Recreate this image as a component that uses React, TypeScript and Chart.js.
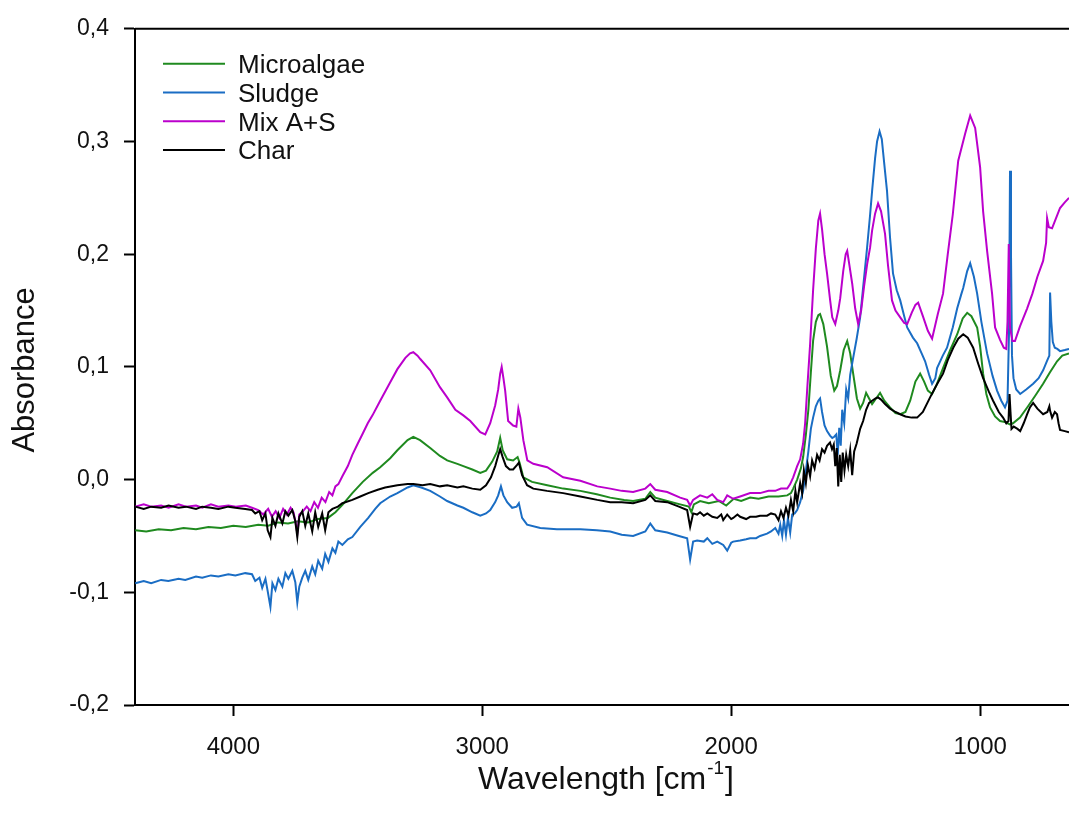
import React, { useEffect, useRef } from "react";
import { Chart, registerables } from "chart.js";

Chart.register(...registerables);

// ---- data: [wavenumber (cm-1), absorbance] ----
const microalgae: [number, number][] = [
  [4394,-0.045],[4350,-0.046],[4300,-0.044],[4250,-0.045],[4200,-0.043],[4150,-0.044],[4100,-0.042],[4050,-0.043],[4000,-0.041],[3950,-0.042],[3900,-0.040],[3860,-0.041],[3820,-0.038],[3780,-0.039],[3740,-0.037],[3700,-0.038],[3660,-0.035],[3620,-0.034],[3590,-0.029],[3560,-0.022],[3522,-0.012],[3480,-0.002],[3440,0.006],[3410,0.011],[3370,0.019],[3341,0.026],[3300,0.035],[3277,0.038],[3250,0.035],[3209,0.028],[3170,0.021],[3141,0.017],[3100,0.014],[3076,0.012],[3040,0.009],[3008,0.006],[2985,0.008],[2960,0.016],[2940,0.025],[2928,0.037],[2918,0.026],[2900,0.018],[2876,0.017],[2858,0.020],[2850,0.015],[2835,0.002],[2800,-0.002],[2739,-0.005],[2675,-0.008],[2606,-0.010],[2540,-0.013],[2486,-0.016],[2430,-0.018],[2394,-0.019],[2345,-0.017],[2325,-0.011],[2305,-0.016],[2257,-0.019],[2205,-0.022],[2170,-0.024],[2160,-0.029],[2150,-0.022],[2125,-0.019],[2090,-0.021],[2050,-0.019],[2020,-0.023],[1990,-0.017],[1960,-0.019],[1924,-0.016],[1890,-0.017],[1850,-0.015],[1810,-0.015],[1775,-0.014],[1760,-0.012],[1751,-0.008],[1735,0.000],[1720,0.010],[1711,0.020],[1700,0.040],[1690,0.062],[1680,0.095],[1671,0.123],[1660,0.140],[1650,0.146],[1643,0.147],[1630,0.138],[1615,0.118],[1600,0.092],[1586,0.079],[1575,0.083],[1562,0.097],[1548,0.115],[1534,0.123],[1522,0.112],[1510,0.094],[1495,0.072],[1482,0.063],[1470,0.068],[1458,0.077],[1446,0.072],[1434,0.067],[1418,0.072],[1402,0.077],[1385,0.070],[1362,0.064],[1340,0.059],[1321,0.058],[1300,0.060],[1281,0.070],[1260,0.087],[1241,0.094],[1225,0.087],[1210,0.079],[1193,0.076],[1175,0.084],[1149,0.099],[1120,0.115],[1092,0.129],[1070,0.143],[1052,0.148],[1035,0.145],[1012,0.135],[1000,0.118],[988,0.094],[975,0.076],[960,0.064],[940,0.056],[920,0.052],[900,0.051],[880,0.049],[868,0.050],[840,0.055],[811,0.064],[780,0.074],[747,0.085],[720,0.095],[691,0.105],[670,0.110],[643,0.112]
];

const sludge: [number, number][] = [
  [4394,-0.092],[4360,-0.090],[4330,-0.092],[4290,-0.089],[4261,-0.090],[4220,-0.088],[4193,-0.089],[4150,-0.086],[4125,-0.087],[4090,-0.085],[4060,-0.086],[4020,-0.084],[3992,-0.085],[3952,-0.083],[3925,-0.084],[3912,-0.090],[3895,-0.087],[3884,-0.096],[3871,-0.088],[3862,-0.099],[3851,-0.113],[3843,-0.092],[3831,-0.098],[3819,-0.088],[3803,-0.095],[3791,-0.083],[3779,-0.088],[3763,-0.081],[3751,-0.091],[3743,-0.109],[3735,-0.095],[3723,-0.087],[3711,-0.081],[3699,-0.089],[3683,-0.077],[3671,-0.084],[3659,-0.072],[3643,-0.079],[3631,-0.066],[3618,-0.073],[3602,-0.061],[3590,-0.065],[3578,-0.055],[3562,-0.058],[3540,-0.053],[3522,-0.051],[3490,-0.042],[3458,-0.034],[3430,-0.026],[3410,-0.021],[3370,-0.015],[3341,-0.012],[3300,-0.007],[3277,-0.005],[3245,-0.007],[3209,-0.010],[3170,-0.015],[3141,-0.019],[3100,-0.023],[3076,-0.025],[3040,-0.029],[3008,-0.032],[2985,-0.030],[2968,-0.027],[2948,-0.020],[2936,-0.014],[2925,-0.006],[2915,-0.014],[2900,-0.020],[2880,-0.025],[2862,-0.024],[2853,-0.021],[2840,-0.034],[2820,-0.040],[2767,-0.043],[2700,-0.044],[2606,-0.044],[2540,-0.045],[2486,-0.046],[2440,-0.049],[2394,-0.050],[2345,-0.046],[2325,-0.039],[2305,-0.045],[2257,-0.047],[2210,-0.050],[2177,-0.052],[2165,-0.071],[2153,-0.055],[2137,-0.054],[2110,-0.055],[2096,-0.052],[2076,-0.057],[2056,-0.055],[2032,-0.058],[2016,-0.063],[2000,-0.056],[1992,-0.055],[1964,-0.054],[1940,-0.053],[1924,-0.052],[1900,-0.052],[1884,-0.050],[1856,-0.048],[1840,-0.046],[1823,-0.043],[1810,-0.048],[1803,-0.040],[1795,-0.050],[1788,-0.036],[1780,-0.049],[1772,-0.034],[1763,-0.047],[1755,-0.031],[1745,-0.030],[1735,-0.027],[1723,-0.020],[1711,-0.010],[1700,0.008],[1690,0.025],[1680,0.045],[1671,0.055],[1660,0.065],[1650,0.070],[1643,0.072],[1635,0.060],[1625,0.048],[1615,0.043],[1603,0.039],[1594,0.037],[1586,0.038],[1578,0.040],[1572,0.022],[1566,0.046],[1560,0.030],[1554,0.062],[1546,0.050],[1538,0.080],[1530,0.072],[1522,0.093],[1510,0.108],[1496,0.125],[1482,0.144],[1468,0.175],[1454,0.206],[1442,0.235],[1434,0.256],[1422,0.285],[1414,0.300],[1404,0.309],[1395,0.302],[1385,0.280],[1374,0.256],[1362,0.215],[1350,0.183],[1335,0.168],[1321,0.159],[1305,0.145],[1293,0.135],[1270,0.126],[1253,0.121],[1235,0.112],[1221,0.105],[1205,0.093],[1193,0.085],[1180,0.090],[1173,0.099],[1150,0.110],[1133,0.117],[1110,0.135],[1092,0.152],[1075,0.165],[1068,0.170],[1052,0.185],[1040,0.192],[1025,0.180],[1012,0.165],[995,0.140],[972,0.112],[950,0.092],[932,0.079],[915,0.070],[900,0.064],[890,0.070],[884,0.130],[880,0.274],[876,0.200],[872,0.110],[866,0.090],[855,0.080],[839,0.076],[815,0.080],[787,0.085],[765,0.090],[747,0.097],[730,0.106],[722,0.110],[719,0.166],[714,0.140],[708,0.122],[700,0.117],[690,0.116],[679,0.114],[660,0.115],[643,0.116]
];

const mixAS: [number, number][] = [
  [4394,-0.024],[4360,-0.022],[4330,-0.024],[4290,-0.023],[4260,-0.025],[4220,-0.022],[4190,-0.024],[4150,-0.023],[4125,-0.025],[4090,-0.022],[4060,-0.024],[4020,-0.023],[3990,-0.024],[3950,-0.023],[3925,-0.025],[3900,-0.027],[3880,-0.031],[3860,-0.026],[3845,-0.033],[3830,-0.028],[3815,-0.034],[3800,-0.026],[3785,-0.031],[3770,-0.025],[3758,-0.029],[3750,-0.038],[3743,-0.048],[3735,-0.031],[3720,-0.028],[3705,-0.024],[3690,-0.028],[3675,-0.020],[3660,-0.025],[3645,-0.016],[3630,-0.020],[3615,-0.011],[3602,-0.014],[3590,-0.006],[3578,-0.004],[3562,0.003],[3540,0.012],[3522,0.022],[3500,0.032],[3482,0.040],[3460,0.050],[3441,0.057],[3410,0.070],[3373,0.085],[3341,0.098],[3309,0.108],[3290,0.112],[3277,0.113],[3260,0.110],[3249,0.107],[3209,0.097],[3170,0.082],[3141,0.073],[3108,0.062],[3076,0.057],[3048,0.052],[3008,0.042],[2988,0.040],[2968,0.050],[2948,0.066],[2936,0.080],[2928,0.094],[2922,0.100],[2915,0.090],[2908,0.079],[2896,0.052],[2876,0.048],[2863,0.047],[2855,0.063],[2847,0.055],[2835,0.035],[2819,0.017],[2795,0.014],[2739,0.011],[2675,0.002],[2606,-0.001],[2538,-0.006],[2486,-0.008],[2440,-0.010],[2394,-0.011],[2345,-0.008],[2325,-0.004],[2305,-0.009],[2257,-0.011],[2205,-0.016],[2177,-0.018],[2165,-0.023],[2153,-0.018],[2125,-0.014],[2096,-0.016],[2076,-0.013],[2056,-0.018],[2032,-0.020],[2016,-0.014],[1992,-0.017],[1964,-0.015],[1924,-0.012],[1884,-0.012],[1850,-0.010],[1823,-0.010],[1800,-0.008],[1775,-0.008],[1763,-0.004],[1751,0.002],[1735,0.012],[1723,0.018],[1711,0.032],[1703,0.050],[1695,0.079],[1683,0.120],[1671,0.168],[1660,0.205],[1650,0.230],[1643,0.236],[1635,0.222],[1625,0.200],[1615,0.183],[1603,0.160],[1594,0.144],[1582,0.138],[1570,0.150],[1562,0.161],[1550,0.185],[1540,0.200],[1534,0.203],[1525,0.190],[1514,0.174],[1502,0.152],[1490,0.138],[1478,0.150],[1466,0.172],[1454,0.191],[1442,0.206],[1434,0.221],[1422,0.236],[1410,0.245],[1398,0.238],[1382,0.218],[1370,0.190],[1354,0.159],[1340,0.150],[1321,0.144],[1305,0.139],[1293,0.138],[1275,0.148],[1260,0.155],[1249,0.157],[1230,0.145],[1210,0.132],[1193,0.125],[1170,0.147],[1149,0.165],[1130,0.200],[1110,0.235],[1088,0.283],[1060,0.307],[1040,0.323],[1020,0.312],[1000,0.277],[988,0.238],[972,0.203],[952,0.165],[940,0.135],[920,0.124],[905,0.117],[895,0.116],[890,0.140],[885,0.209],[880,0.135],[870,0.123],[860,0.123],[840,0.136],[811,0.152],[790,0.165],[770,0.180],[747,0.194],[735,0.210],[731,0.232],[724,0.224],[711,0.223],[695,0.232],[679,0.241],[660,0.246],[643,0.250]
];

const charData: [number, number][] = [
  [4394,-0.024],[4360,-0.026],[4330,-0.024],[4290,-0.025],[4260,-0.023],[4220,-0.025],[4190,-0.024],[4150,-0.026],[4125,-0.024],[4090,-0.025],[4060,-0.026],[4020,-0.024],[3992,-0.025],[3952,-0.026],[3925,-0.027],[3912,-0.030],[3895,-0.028],[3884,-0.036],[3871,-0.030],[3862,-0.045],[3851,-0.051],[3843,-0.034],[3831,-0.041],[3819,-0.030],[3803,-0.039],[3791,-0.028],[3779,-0.032],[3763,-0.027],[3751,-0.037],[3743,-0.051],[3735,-0.033],[3723,-0.028],[3711,-0.041],[3699,-0.030],[3683,-0.046],[3671,-0.029],[3659,-0.042],[3643,-0.030],[3631,-0.045],[3618,-0.029],[3602,-0.026],[3580,-0.024],[3562,-0.021],[3522,-0.018],[3490,-0.015],[3458,-0.012],[3420,-0.009],[3390,-0.007],[3341,-0.005],[3300,-0.004],[3277,-0.004],[3240,-0.005],[3209,-0.004],[3170,-0.006],[3141,-0.005],[3100,-0.007],[3076,-0.006],[3040,-0.008],[3008,-0.009],[2985,-0.005],[2965,0.002],[2948,0.012],[2935,0.022],[2928,0.027],[2918,0.020],[2905,0.012],[2890,0.009],[2876,0.009],[2860,0.013],[2853,0.015],[2840,0.004],[2820,-0.005],[2795,-0.008],[2740,-0.010],[2675,-0.012],[2606,-0.015],[2538,-0.018],[2486,-0.020],[2440,-0.020],[2394,-0.021],[2345,-0.018],[2325,-0.014],[2305,-0.019],[2257,-0.020],[2210,-0.024],[2177,-0.027],[2165,-0.042],[2153,-0.030],[2137,-0.031],[2125,-0.029],[2110,-0.032],[2096,-0.030],[2076,-0.033],[2056,-0.034],[2040,-0.031],[2032,-0.036],[2016,-0.031],[2000,-0.035],[1992,-0.034],[1975,-0.031],[1964,-0.033],[1940,-0.035],[1924,-0.033],[1900,-0.033],[1884,-0.032],[1856,-0.032],[1840,-0.030],[1823,-0.031],[1810,-0.036],[1800,-0.028],[1790,-0.034],[1780,-0.025],[1770,-0.032],[1760,-0.018],[1751,-0.028],[1742,-0.010],[1735,-0.020],[1723,-0.003],[1715,-0.012],[1708,0.008],[1700,-0.003],[1692,0.013],[1683,0.003],[1675,0.017],[1665,0.010],[1655,0.022],[1645,0.017],[1635,0.027],[1625,0.024],[1615,0.030],[1603,0.033],[1595,0.027],[1588,0.031],[1582,0.012],[1576,0.028],[1570,-0.006],[1564,0.022],[1558,-0.002],[1552,0.024],[1545,0.008],[1538,0.022],[1530,0.012],[1522,0.026],[1514,0.004],[1506,0.025],[1496,0.032],[1482,0.045],[1470,0.052],[1458,0.062],[1446,0.068],[1434,0.070],[1420,0.072],[1410,0.073],[1398,0.071],[1382,0.067],[1362,0.063],[1340,0.060],[1321,0.058],[1300,0.056],[1275,0.055],[1253,0.055],[1230,0.060],[1201,0.073],[1175,0.084],[1149,0.094],[1130,0.106],[1108,0.117],[1088,0.125],[1068,0.129],[1050,0.126],[1028,0.117],[1008,0.103],[988,0.090],[965,0.078],[948,0.070],[925,0.060],[908,0.055],[895,0.050],[886,0.052],[882,0.076],[878,0.060],[874,0.045],[865,0.047],[850,0.045],[839,0.043],[825,0.050],[811,0.058],[800,0.064],[787,0.068],[770,0.063],[747,0.058],[730,0.060],[722,0.065],[719,0.061],[711,0.055],[700,0.060],[691,0.058],[685,0.050],[679,0.044],[660,0.043],[643,0.042]
];

const seriesLabels = ["Microalgae", "Sludge", "Mix A+S", "Char"];
const seriesColors = ["#1f8a1f", "#1a6dc4", "#bb00cc", "#000000"];
const xTickValues = [4000, 3000, 2000, 1000];
const yTickValues = [-0.2, -0.1, 0, 0.1, 0.2, 0.3, 0.4];
const xMin = 643;
const xMax = 4395;
const yMin = -0.2;
const yMax = 0.4;

const FONT = "'Liberation Sans', Arial, Helvetica, sans-serif";

const framePlugin = {
  id: "frameAndText",
  afterDraw(chart: any) {
    const { ctx, chartArea } = chart;
    ctx.save();
    // top frame line
    ctx.strokeStyle = "#000";
    ctx.lineWidth = 2;
    ctx.beginPath();
    ctx.moveTo(chartArea.left, chartArea.top);
    ctx.lineTo(chartArea.right, chartArea.top);
    ctx.stroke();

    // legend
    const lx0 = chartArea.left + 28;
    const lx1 = chartArea.left + 90;
    const tx = chartArea.left + 103;
    seriesLabels.forEach((lab, i) => {
      const y = chartArea.top + 35 + i * 28.7;
      ctx.strokeStyle = seriesColors[i];
      ctx.lineWidth = 2;
      ctx.beginPath();
      ctx.moveTo(lx0, y);
      ctx.lineTo(lx1, y);
      ctx.stroke();
      ctx.fillStyle = "#111";
      ctx.font = `26px ${FONT}`;
      ctx.textAlign = "left";
      ctx.textBaseline = "alphabetic";
      ctx.fillText(lab, tx, y + 9.5);
    });

    // y title
    ctx.save();
    ctx.translate(25, (chartArea.top + chartArea.bottom) / 2 + 3);
    ctx.rotate(-Math.PI / 2);
    ctx.font = `31px ${FONT}`;
    ctx.textAlign = "center";
    ctx.textBaseline = "middle";
    ctx.fillStyle = "#111";
    ctx.fillText("Absorbance", 0, 0);
    ctx.restore();

    // x title with superscript
    const main = "Wavelength [cm";
    const sup = "-1";
    const end = "]";
    ctx.font = `32px ${FONT}`;
    const wMain = ctx.measureText(main).width;
    const wEnd = ctx.measureText(end).width;
    ctx.font = `19px ${FONT}`;
    const wSup = ctx.measureText(sup).width;
    const total = wMain + wSup + wEnd + 2;
    const cx = (chartArea.left + chartArea.right) / 2 + 4;
    let x = cx - total / 2;
    const baseY = 789;
    ctx.fillStyle = "#111";
    ctx.textAlign = "left";
    ctx.textBaseline = "alphabetic";
    ctx.font = `32px ${FONT}`;
    ctx.fillText(main, x, baseY);
    x += wMain + 1;
    ctx.font = `19px ${FONT}`;
    ctx.fillText(sup, x, baseY - 15);
    x += wSup + 1;
    ctx.font = `32px ${FONT}`;
    ctx.fillText(end, x, baseY);
    ctx.restore();
  },
};

function toPoints(arr: [number, number][]) {
  return arr.map(([x, y]) => ({ x, y }));
}

export default function App() {
  const ref = useRef<HTMLCanvasElement | null>(null);

  useEffect(() => {
    if (!ref.current) return;
    const allSeries = [microalgae, sludge, mixAS, charData];
    const orders = [3, 2, 1, 0];
    const chart = new Chart(ref.current, {
      type: "line",
      data: {
        datasets: allSeries.map((s, i) => ({
          label: seriesLabels[i],
          data: toPoints(s),
          borderColor: seriesColors[i],
          backgroundColor: seriesColors[i],
          borderWidth: 2,
          pointRadius: 0,
          tension: 0,
          fill: false,
          order: orders[i],
        })),
      },
      options: {
        animation: false,
        responsive: false,
        devicePixelRatio: 1,
        parsing: false as any,
        normalized: true,
        layout: { padding: { top: 28, left: 0, right: 0, bottom: 0 } },
        plugins: {
          legend: { display: false },
          tooltip: { enabled: false },
        },
        scales: {
          x: {
            type: "linear",
            reverse: true,
            min: xMin,
            max: xMax,
            afterBuildTicks: (s: any) => {
              s.ticks = xTickValues.map((v) => ({ value: v }));
            },
            afterFit: (s: any) => {
              s.height = 115;
            },
            grid: {
              display: true,
              drawOnChartArea: false,
              drawTicks: true,
              tickLength: 11,
              tickColor: "#000",
              tickWidth: 2,
            },
            border: { display: true, color: "#000", width: 2 },
            ticks: {
              color: "#111",
              font: { family: FONT, size: 24 },
              padding: 17,
              maxRotation: 0,
              autoSkip: false,
              callback: (v: any) => String(v),
            },
          },
          y: {
            type: "linear",
            min: yMin,
            max: yMax,
            afterBuildTicks: (s: any) => {
              s.ticks = yTickValues.map((v) => ({ value: v }));
            },
            afterFit: (s: any) => {
              s.width = 135;
            },
            grid: {
              display: true,
              drawOnChartArea: false,
              drawTicks: true,
              tickLength: 11,
              tickColor: "#000",
              tickWidth: 2,
            },
            border: { display: true, color: "#000", width: 2 },
            ticks: {
              color: "#111",
              font: { family: FONT, size: 23 },
              padding: 15,
              autoSkip: false,
              callback: (v: any) => {
                const n = Number(v);
                if (Math.abs(n) < 1e-9) return "0,0";
                return n.toFixed(1).replace(".", ",");
              },
            },
          },
        },
      },
      plugins: [framePlugin],
    } as any);
    return () => chart.destroy();
  }, []);

  return (
    <div style={{ position: "absolute", left: 0, top: 0, width: 1069, height: 820, overflow: "hidden", background: "#fff" }}>
      <canvas ref={ref} width={1069} height={820} style={{ display: "block" }} />
    </div>
  );
}
